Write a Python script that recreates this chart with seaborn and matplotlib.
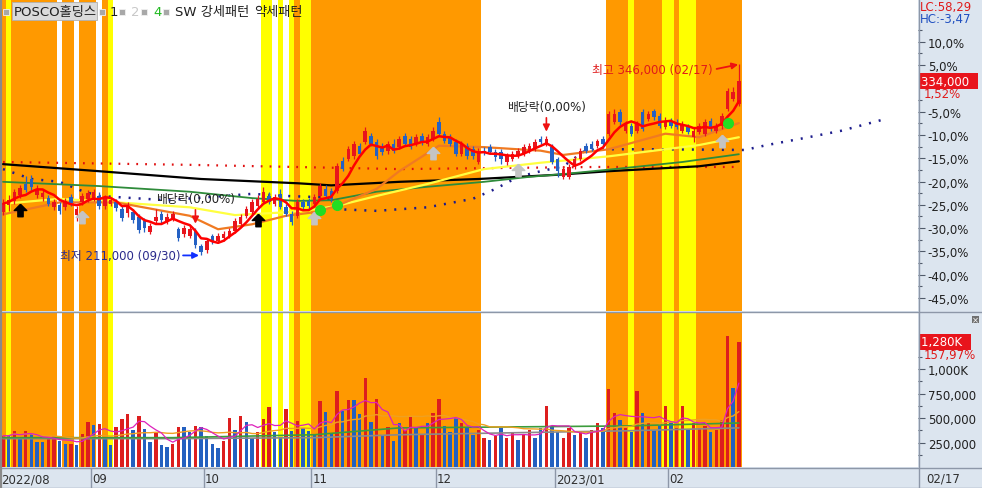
import numpy as np
import pandas as pd
import seaborn as sns
import matplotlib
matplotlib.use("Agg")
import matplotlib.pyplot as plt
from matplotlib import font_manager
from matplotlib.patches import Rectangle
from matplotlib.lines import Line2D
from matplotlib.transforms import offset_copy

# ---------------- data ----------------
# prices in thousand won, volume in thousand shares
holidays = ['2022-08-15', '2022-09-09', '2022-09-12', '2022-10-03', '2022-10-10',
            '2022-12-30', '2023-01-23', '2023-01-24']
dates = pd.bdate_range('2022-08-09', '2023-02-17', freq='C', holidays=holidays)

opens = [241.5, 246.5, 249.5, 254, 261.5, 265, 254, 252.5, 251.5, 245.5,
         246.5, 245.5, 252.5, 239.5, 248.5, 251, 251.5, 253, 246, 247.5,
         248.5, 244, 241, 241.5, 238, 235.5, 227.5, 235.5, 240, 235.5,
         237, 229.5, 226, 224.5, 228.5, 218, 214.5, 224.5, 221.5, 223,
         224, 228.5, 233.5, 239, 242, 246, 249, 253, 247.5, 254.5,
         245.5, 240, 239, 249, 249.5, 247.5, 253, 258, 256.5, 256.5,
         277.5, 279, 281, 288, 291, 295.5, 291, 288, 284.5, 289.5,
         287.5, 295.5, 293.5, 289.5, 295.5, 289.5, 293.5, 305.5, 297, 294.5,
         291, 282.5, 288, 286, 277, 284.5, 287.5, 284, 284, 277,
         279, 281, 282.5, 284.5, 286, 293.5, 289.5, 287.5, 279, 266.5,
         266.5, 273.5, 279, 288, 289.5, 288, 293.5, 297, 305.5, 312.5,
         299, 302.5, 299, 312.5, 307.5, 313, 309.5, 301.5, 306, 305.5,
         299, 301.5, 294.5, 298, 297, 306, 299, 302.5, 314.5, 321.5,
         318]
closes = [247.5, 250, 255.5, 258.5, 257, 259.5, 258, 255, 247.5, 248.5,
          242.5, 249.5, 248, 244, 253, 255, 255.5, 246, 251.5, 250,
          244.5, 237.5, 246.5, 236, 229, 230.5, 232, 238.5, 236, 238.5,
          240, 223.5, 230.5, 229.5, 218.5, 213.5, 221.5, 221.5, 224.5, 226,
          228.5, 235.5, 238, 244, 249, 251, 255.5, 249, 252.5, 245.5,
          240, 234.5, 249, 245.5, 246, 252.5, 260, 253, 251, 274,
          272, 286, 289.5, 282.5, 299, 289.5, 281, 284, 289.5, 284.5,
          293.5, 289.5, 287.5, 294.5, 291, 294.5, 299, 297, 292, 289.5,
          282.5, 289.5, 281, 281, 284.5, 284, 284, 280.5, 279, 281,
          282.5, 284.5, 287.5, 288, 291, 291, 293.5, 277, 270.5, 272,
          273.5, 279, 284.5, 284.5, 286, 292, 289.5, 311, 311, 305.5,
          304, 297, 304, 300.5, 311, 308.5, 302.5, 306, 302.5, 301.5,
          304, 298, 299, 302.5, 305.5, 300.5, 302.5, 309.5, 327, 326.5,
          334]
highs = [251, 254, 258, 260.5, 267, 267.5, 260.5, 257, 254, 251,
         248.5, 251.5, 254.5, 246, 255, 257, 258, 255.5, 254, 252.5,
         251, 246, 248.5, 244, 240, 237.5, 234, 244, 242.5, 241,
         242.5, 231, 232.5, 232, 230.5, 219, 223, 226, 227, 228.5,
         230.5, 237.5, 240, 246, 251, 254, 259.5, 255.5, 254.5, 258,
         247.5, 242.5, 251, 251, 251.5, 254.5, 262, 260.5, 258.5, 276,
         280.5, 288.5, 292, 290.5, 301.5, 297.5, 293.5, 290.5, 292, 293.5,
         295.5, 297.5, 295.5, 296.5, 297.5, 296.5, 301.5, 309, 299, 296.5,
         293.5, 292, 290.5, 288.5, 287, 287.5, 289.5, 286, 286, 283.5,
         284.5, 287, 289.5, 290.5, 293.5, 295.5, 295.5, 289.5, 280.5, 274,
         275.5, 281, 287, 290.5, 292, 293.5, 295.5, 313, 314.5, 314.5,
         306, 304.5, 306, 314.5, 313, 314.5, 311.5, 308.5, 308, 307.5,
         306, 304, 301, 304.5, 307.5, 308, 304.5, 311.5, 329.5, 330,
         346]
lows = [239.5, 242.5, 247.5, 251.5, 255.5, 257, 251.5, 249.5, 246, 243,
        240, 243, 246, 235.5, 246.5, 248.5, 249.5, 244, 244, 246,
        242.5, 235.5, 238.5, 234, 227, 227.5, 226, 234, 234, 233,
        235.5, 221, 224, 223.5, 216.5, 211, 213, 219, 220, 221.5,
        223, 227, 231, 237.5, 240, 244.5, 247.5, 247, 246, 244,
        239, 232.5, 237.5, 244, 244, 246, 251.5, 251.5, 248.5, 255,
        270.5, 277.5, 279, 281, 289.5, 288, 279, 282, 282.5, 283.5,
        286, 288, 286, 288, 289, 288, 292, 295.5, 290.5, 288,
        281, 281, 279, 279, 275.5, 282, 282.5, 277.5, 275.5, 275,
        277.5, 279.5, 281, 283.5, 284.5, 289.5, 288, 275.5, 266.5, 265,
        265, 272, 277.5, 283.5, 284.5, 287, 288, 295.5, 304, 303,
        297.5, 295.5, 297.5, 299, 306, 306.5, 301, 300.5, 301, 300.5,
        297.5, 297, 291, 297, 295.5, 299, 297.5, 300.5, 313, 320,
        316.5]
volume = [320, 320, 370, 310, 370, 340, 260, 260, 290, 320,
          270, 240, 240, 220, 340, 460, 430, 440, 290, 220,
          410, 490, 540, 380, 520, 390, 260, 350, 220, 200,
          240, 410, 410, 360, 420, 410, 320, 240, 190, 270,
          500, 380, 520, 460, 300, 360, 490, 610, 360, 310,
          590, 370, 470, 400, 370, 330, 670, 560, 340, 780,
          570, 690, 690, 540, 910, 460, 700, 330, 410, 270,
          450, 380, 520, 400, 330, 450, 550, 700, 420, 360,
          500, 450, 400, 330, 380, 300, 280, 320, 400, 300,
          350, 280, 330, 380, 300, 400, 620, 420, 360, 300,
          400, 330, 360, 300, 380, 450, 400, 800, 550, 480,
          400, 360, 780, 550, 450, 380, 420, 620, 450, 400,
          620, 380, 450, 400, 420, 360, 380, 480, 1340, 810,
          1280]
vol_up = [1, 0, 1, 0, 1, 0, 0, 0, 1, 1,
          0, 0, 1, 0, 1, 1, 0, 1, 0, 0,
          1, 1, 1, 0, 1, 0, 0, 1, 0, 0,
          1, 1, 0, 0, 1, 0, 0, 0, 0, 1,
          1, 0, 1, 0, 0, 1, 1, 1, 0, 0,
          1, 0, 1, 0, 0, 0, 1, 0, 0, 1,
          0, 1, 0, 0, 1, 0, 1, 0, 1, 0,
          0, 1, 1, 0, 1, 0, 1, 1, 0, 0,
          0, 1, 0, 0, 1, 1, 0, 1, 0, 1,
          1, 0, 1, 1, 0, 0, 1, 0, 0, 1,
          1, 0, 1, 0, 1, 1, 0, 1, 1, 0,
          1, 0, 1, 0, 1, 0, 0, 1, 0, 1,
          1, 0, 1, 1, 1, 0, 1, 1, 1, 0,
          1]

# pattern signals (bar index ranges): strong = orange, weak = yellow
strong_spans = [(0, 0), (2, 9), (11, 12), (14, 16), (18, 18), (52, 52), (55, 84),
                (107, 110), (112, 116), (119, 119), (123, 130)]
weak_spans = [(1, 1), (19, 19), (46, 47), (49, 49), (51, 51), (53, 54),
              (111, 111), (117, 118), (120, 122)]

# longer averages / spans read at key points (bar index, price)
ma_orange_x = [0, 10, 20, 33, 38, 44, 50, 55, 59, 66, 70, 77, 85, 95, 99, 107, 117, 123, 130]
ma_orange = [240, 248.5, 248.5, 239, 229.5, 233, 239, 241.5, 246, 258, 270.5, 288.5,
             287.5, 285, 282, 286, 297, 294.5, 304.5]
ma_yellow_x = [0, 10, 20, 33, 41, 50, 55, 59, 66, 75, 85, 95, 107, 123, 130]
ma_yellow = [247.5, 251, 248.5, 245, 239.5, 241.5, 243.5, 246, 253, 261.5, 272, 276.5,
             281, 289, 294.5]
ma_green_x = [0, 17, 33, 44, 52, 58, 66, 75, 85, 93, 99, 108, 120, 130]
ma_green = [263, 260, 256, 251.5, 249.5, 250, 256, 259.5, 263, 266.5, 268.5, 272, 277, 282.5]
ma_black_x = [0, 17, 35, 52, 58, 70, 84, 98, 107, 123, 130]
ma_black = [275.5, 270.5, 265, 262, 260.5, 263, 265, 268, 270.5, 274, 277.5]
span_red_x = [0, 33, 70, 105, 130]
span_red = [277, 275, 272, 273.5, 273.5]
span_blue_x = [0, 5, 10, 14, 17, 29, 44, 50, 57, 60, 66, 75, 83, 87, 91, 95, 99, 103,
               107, 116, 131, 135, 141, 148, 156]
span_blue = [272, 265, 263, 256.5, 253, 250, 254.5, 253, 252, 243.5, 242.5, 245, 251, 258,
             266.5, 270.5, 274, 285.5, 286, 286, 285.5, 289, 293.5, 299, 307.5]
vol_ma_x = [0, 30, 55, 70, 90, 110, 130]
vol_ma_green = [300, 300, 330, 400, 410, 420, 450]
vol_ma_gray = [290, 290, 300, 330, 350, 370, 400]

signal_black = [3, 45]
signal_gray = [14, 55, 76, 91, 127]
signal_green = [56, 59, 128]
ex_div_bars = [34, 96]

last_pct = 1.52
last_vol_pct = 157.97
lc_value, hc_value = 58.29, -3.47
pct_ticks = [10, 5, -5, -10, -15, -20, -25, -30, -35, -40, -45]
vol_ticks = [250, 500, 750, 1000]
vol_tick_labels = ['250,000', '500,000', '750,000', '1,000K']

# ---------------- styling ----------------
sns.set_style('white')
names = {f.name for f in font_manager.fontManager.ttflist}
latin = 'Liberation Sans Narrow' if 'Liberation Sans Narrow' in names else 'DejaVu Sans'
plt.rcParams['font.family'] = [latin, 'Noto Sans CJK KR', 'DejaVu Sans']

ORANGE, YELLOW = '#ff9900', '#ffff00'
RED, BLUE = '#e8141c', '#2461c4'
PANEL = '#dce5ef'
GRID = '#8d97a8'

W, H = 982, 489


def rect(x0, y0, x1, y1):
    return [x0 / W, 1 - y1 / H, (x1 - x0) / W, (y1 - y0) / H]


opens, closes = np.array(opens), np.array(closes)
highs, lows = np.array(highs), np.array(lows)
volume = np.array(volume)
n = len(closes)
x = np.arange(n)
base = closes[-1] / (1 + last_pct / 100)

fig = plt.figure(figsize=(W / 100, H / 100), dpi=100, facecolor=PANEL)
ax_p = fig.add_axes(rect(1, 0, 918, 312))
ax_v = fig.add_axes(rect(1, 314, 918, 468))
ax_d = fig.add_axes(rect(1, 469, 918, 489))

xlim = (-0.35, 161.65)
for ax in (ax_p, ax_v, ax_d):
    ax.set_xlim(*xlim)
    ax.set_xticks([])
    for s in ax.spines.values():
        s.set_visible(False)
ax_p.set_facecolor('white')
ax_v.set_facecolor('white')
ax_d.set_facecolor(PANEL)

# signal bands
for ax in (ax_p, ax_v):
    for s, e in strong_spans:
        ax.axvspan(s - 0.5, e + 0.5, color=ORANGE, lw=0, zorder=0)
    for s, e in weak_spans:
        ax.axvspan(s - 0.5, e + 0.5, color=YELLOW, lw=0, zorder=0)

# ---------------- price panel ----------------
ax_p.set_ylim(base * (1 - 0.478), base * (1 + 0.192))

sns.lineplot(x=span_red_x, y=span_red, ax=ax_p, color='#e01010', lw=1.6,
             linestyle=(0, (0.8, 3.2)), zorder=2)
sns.lineplot(x=span_blue_x, y=span_blue, ax=ax_p, color='#1c1c8c', lw=1.8,
             linestyle=(0, (0.8, 3.2)), zorder=2)
sns.lineplot(x=ma_black_x, y=ma_black, ax=ax_p, color='black', lw=1.6, zorder=2)
sns.lineplot(x=ma_green_x, y=ma_green, ax=ax_p, color='#2e8b3a', lw=1.3, zorder=2)
sns.lineplot(x=ma_yellow_x, y=ma_yellow, ax=ax_p, color='#ffff40', lw=1.6, zorder=2)
sns.lineplot(x=ma_orange_x, y=ma_orange, ax=ax_p, color='#f07a22', lw=1.6, zorder=2)

up = closes >= opens
ccol = np.where(up, RED, BLUE)
ax_p.vlines(x, lows, highs, colors=ccol, lw=0.9, zorder=3)
ax_p.bar(x, np.maximum(np.abs(closes - opens), 0.6), bottom=np.minimum(opens, closes),
         width=0.62, color=ccol, lw=0, zorder=3)

ma5 = pd.Series(closes).rolling(5, min_periods=1).mean()
sns.lineplot(x=x, y=ma5, ax=ax_p, color='#ff0000', lw=1.8, zorder=4)

# signal markers below the candles
arrow_verts = [(0, 1), (-1, 0), (-0.42, 0), (-0.42, -1), (0.42, -1), (0.42, 0), (1, 0), (0, 1)]
below = offset_copy(ax_p.transData, fig=fig, y=-12, units='dots')
ax_p.plot(signal_black, lows[signal_black], ls='none', marker=arrow_verts, ms=9,
          color='black', transform=below, zorder=5)
ax_p.plot(signal_gray, lows[signal_gray], ls='none', marker=arrow_verts, ms=9,
          color='#c4c4c4', transform=below, zorder=5)
ax_p.plot(signal_green, lows[signal_green], ls='none', marker='o', ms=7,
          color='#22dd22', transform=below, zorder=5)

# ex-dividend marks
for i in ex_div_bars:
    ax_p.annotate('배당락(0,00%)', xy=(i, highs[i]), xytext=(0, 21), textcoords='offset points',
                  ha='center', va='center', fontsize=8.5, color='#202020',
                  arrowprops=dict(arrowstyle='-|>', color='#ee1111', lw=1.2,
                                  mutation_scale=10, shrinkA=1, shrinkB=3), zorder=6)

# lowest / highest labels
lo = int(np.argmin(lows))
hi = int(np.argmax(highs))
ax_p.annotate('', xy=(lo, lows[lo]), xytext=(-13, 0), textcoords='offset points',
              arrowprops=dict(arrowstyle='-|>', color='#1030ff', lw=1.3, mutation_scale=9,
                              shrinkA=0, shrinkB=1.5), zorder=6)
ax_p.annotate(f'최저 {lows[lo] * 1000:,.0f} ({dates[lo]:%m/%d})', xy=(lo, lows[lo]),
              xytext=(-15, 0), textcoords='offset points', ha='right', va='center',
              fontsize=8.5, color='#2b2b8c', zorder=6)
ax_p.annotate('', xy=(hi, highs[hi]), xytext=(-16, -3.3), textcoords='offset points',
              arrowprops=dict(arrowstyle='-|>', color='#ee1111', lw=1.3, mutation_scale=9,
                              shrinkA=0, shrinkB=0.5), zorder=6)
ax_p.annotate(f'최고 {highs[hi] * 1000:,.0f} ({dates[hi]:%m/%d})', xy=(hi, highs[hi]),
              xytext=(-19, -3.3), textcoords='offset points', ha='right', va='center',
              fontsize=8.5, color='#e01a1a', zorder=6)

# right percent axis
ax_p.yaxis.tick_right()
ax_p.set_yticks([base * (1 + p / 100) for p in pct_ticks])
ax_p.set_yticklabels([f'{p:.1f}%'.replace('.', ',') for p in pct_ticks])
ax_p.set_yticks([base * (1 + (p + 2.5) / 100) for p in pct_ticks], minor=True)
ax_p.tick_params(axis='y', which='major', direction='out', length=5, width=0.8,
                 color='#505a6a', labelsize=8.5, labelcolor='#202020', pad=2)
ax_p.tick_params(axis='y', which='minor', direction='out', length=3, width=0.8,
                 color='#505a6a')
ax_p.set_xlabel('')
ax_p.set_ylabel('')

ytr = ax_p.get_yaxis_transform()
ax_p.text(1.003, closes[-1], f'{closes[-1] * 1000:,.0f}  ', transform=ytr, ha='left',
          va='center', fontsize=8.5, color='white', zorder=7, clip_on=False,
          bbox=dict(facecolor='#e8141c', edgecolor='none', pad=1.2))
ax_p.annotate(f'{last_pct:.2f}%'.replace('.', ','), xy=(1.003, closes[-1]), xycoords=ytr,
              xytext=(2, -9), textcoords='offset points', ha='left', va='center',
              fontsize=8.5, color='#e01a1a', annotation_clip=False)

# ---------------- volume panel ----------------
ax_v.set_ylim(0, 1575)
vcol = np.where(np.array(vol_up) == 1, '#dd1e1e', '#2360c0')
ax_v.bar(x, volume, width=0.6, color=vcol, lw=0, zorder=3)
vma5 = pd.Series(volume).rolling(5, min_periods=1).mean()
vma20 = pd.Series(volume).rolling(20, min_periods=1).mean()
sns.lineplot(x=vol_ma_x, y=vol_ma_gray, ax=ax_v, color='#8a8a8a', lw=1.2, zorder=4)
sns.lineplot(x=vol_ma_x, y=vol_ma_green, ax=ax_v, color='#3c9c3c', lw=1.2, zorder=4)
sns.lineplot(x=x, y=vma20, ax=ax_v, color='#f0a020', lw=1.0, zorder=4)
sns.lineplot(x=x, y=vma5, ax=ax_v, color='#dd22bb', lw=0.9, zorder=4)
ax_v.yaxis.tick_right()
ax_v.set_yticks(vol_ticks)
ax_v.set_yticklabels(vol_tick_labels)
ax_v.set_yticks([t - 125 for t in vol_ticks] + [1125], minor=True)
ax_v.tick_params(axis='y', which='major', direction='out', length=5, width=0.8,
                 color='#505a6a', labelsize=8.5, labelcolor='#202020', pad=2)
ax_v.tick_params(axis='y', which='minor', direction='out', length=3, width=0.8,
                 color='#505a6a')
ax_v.set_xlabel('')
ax_v.set_ylabel('')
vtr = ax_v.get_yaxis_transform()
ax_v.text(1.003, volume[-1], f'{volume[-1]:,.0f}K  ', transform=vtr, ha='left', va='center',
          fontsize=8.5, color='white', zorder=7, clip_on=False,
          bbox=dict(facecolor='#e8141c', edgecolor='none', pad=1.2))
ax_v.annotate(f'{last_vol_pct:.2f}%'.replace('.', ','), xy=(1.003, volume[-1]), xycoords=vtr,
              xytext=(2, -9), textcoords='offset points', ha='left', va='center',
              fontsize=8.5, color='#e01a1a', annotation_clip=False)

# ---------------- date strip ----------------
ax_d.set_ylim(0, 1)
ax_d.set_yticks([])
month_idx = [0] + [i for i in range(1, n) if dates[i].month != dates[i - 1].month]
for i in month_idx:
    d = dates[i]
    lab = f'{d:%Y/%m}' if (i == 0 or d.month == 1) else f'{d:%m}'
    if i > 0:
        ax_d.axvline(i - 0.5, color=GRID, lw=1)
    ax_d.text(i - 0.3, 0.45, lab, ha='left', va='center', fontsize=8.5, color='#303030')
fig.text(926 / W, 1 - 479 / H, f'{dates[-1]:%m/%d}', ha='left', va='center', fontsize=8.5,
         color='#303030')

# frame lines
for yy in (313, 468.5, 488.5):
    fig.add_artist(Line2D([0, 1], [1 - yy / H] * 2, color=GRID, lw=1))
fig.add_artist(Line2D([918.5 / W] * 2, [0, 1], color=GRID, lw=1))
fig.add_artist(Line2D([0.8 / W] * 2, [0, 1], color='#8a8a8a', lw=1.6))

# top-right indicator values
fig.text(920 / W, 1 - 8 / H, f'LC:{lc_value:.2f}'.replace('.', ','), ha='left', va='center',
         fontsize=8.5, color='#e01a1a')
fig.text(920 / W, 1 - 20 / H, f'HC:{hc_value:.2f}'.replace('.', ','), ha='left', va='center',
         fontsize=8.5, color='#2050c0')

# small close icon of the volume pane
fig.add_artist(Rectangle((972 / W, 1 - 324 / H), 7 / W, 7 / H, transform=fig.transFigure,
                         facecolor='#707070', edgecolor='none'))
fig.text(975.5 / W, 1 - 320.5 / H, '×', ha='center', va='center', fontsize=6, color='white')

# legend row at the top left
fig.add_artist(Rectangle((12 / W, 1 - 21 / H), 85 / W, 18 / H, transform=fig.transFigure,
                         facecolor='#dadada', edgecolor='#b0b0b0', lw=0.6))
fig.text(14 / W, 1 - 12.5 / H, 'POSCO홀딩스', ha='left', va='center', fontsize=9.5,
         color='#202020')
for sx in (3, 99, 119, 141, 163):
    fig.add_artist(Rectangle((sx / W, 1 - 16 / H), 6 / W, 6 / H, transform=fig.transFigure,
                             facecolor='#a8a8a8', edgecolor='#f0f0f0', lw=0.6))
legend_items = [('1', 110, '#202020'), ('2', 131, '#c8c8c8'), ('4', 153, '#22bb22'),
                ('SW 강세패턴', 175, '#202020'), ('약세패턴', 254, '#202020')]
for txt, tx, col in legend_items:
    fig.text(tx / W, 1 - 12.5 / H, txt, ha='left', va='center', fontsize=9.5, color=col)

fig.savefig('out.png', dpi=100, facecolor=fig.get_facecolor())
